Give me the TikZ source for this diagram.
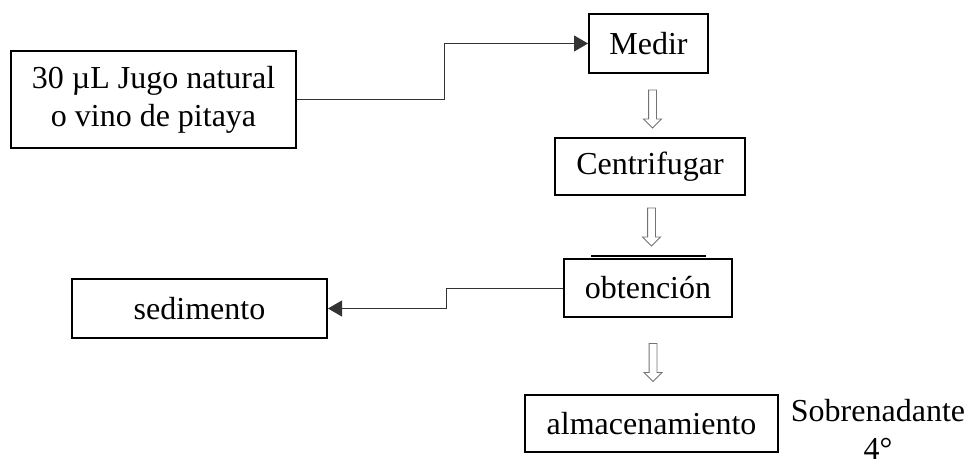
\documentclass[tikz,border=0pt]{standalone}
\usepackage{fontspec}
\setmainfont{Liberation Serif}
\usetikzlibrary{arrows.meta,shapes.arrows}
\begin{document}
\begin{tikzpicture}[x=1pt,y=-1pt,
  every node/.style={font=\fontsize{32}{38}\selectfont},
  procbox/.style={draw, line width=2pt, rectangle, inner sep=0pt, align=center},
  link/.style={draw=black!80, line width=1pt, -{Triangle[length=14pt,width=16pt]}},
  downarrow/.style={draw=black!55, line width=0.9pt, single arrow, rotate=-90,
    inner xsep=0pt, inner ysep=3.5pt, single arrow head extend=5pt,
    single arrow tip angle=90, minimum height=38pt}]
\useasboundingbox (0,0) rectangle (971,465);

% process boxes
\node[procbox, minimum width=285pt, minimum height=97pt] (sample) at (153.5,99.5)
  {30 µL Jugo natural\\o vino de pitaya};
\node[procbox, minimum width=119pt, minimum height=59pt] (medir) at (648.5,43.5) {Medir};
\node[procbox, minimum width=190pt, minimum height=57pt] (centr) at (650,166.5) {Centrifugar};
\node[procbox, minimum width=168pt, minimum height=58pt] (obt) at (648,288) {obtención};
\node[procbox, minimum width=255pt, minimum height=59pt] (sed) at (199.5,308.5) {sedimento};
\node[procbox, minimum width=253pt, minimum height=57pt] (alm) at (651.5,423.5) {almacenamiento};
\node[align=center, inner sep=0pt] (sobre) at (878,429) {Sobrenadante\\4°};

% heavy rule over the top of the obtención box
\draw[line width=2.5pt] ([xshift=-57pt,yshift=2pt]obt.north) -- ([xshift=58pt,yshift=2pt]obt.north);

% elbow connectors
\draw[link] (sample.east) -- ++(147,0) |- (medir.west);
\draw[link] (obt.west) -- ++(-117,0) |- (sed.east);

% hollow downward arrows between steps
\node[downarrow] (a1) at (652.5,107) {};
\node[downarrow] (a2) at (651.5,225) {};
\node[downarrow] (a3) at (653,360.5) {};
\end{tikzpicture}
\end{document}
